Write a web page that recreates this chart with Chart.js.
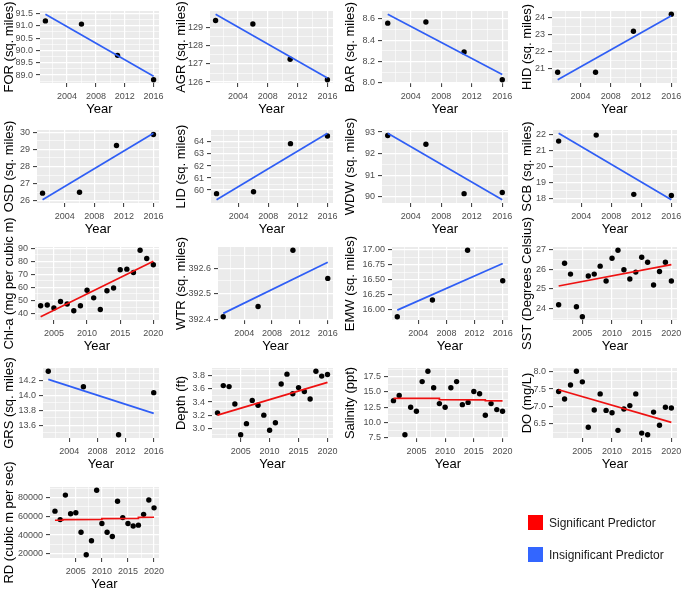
<!DOCTYPE html>
<html><head><meta charset="utf-8">
<script src="https://cdn.jsdelivr.net/npm/chart.js@4.4.1/dist/chart.umd.min.js"></script>
<style>
html,body{margin:0;padding:0;background:#fff;}
#root{position:relative;width:685px;height:591px;overflow:hidden;background:#fff;}
#root canvas{position:absolute;}
.leg{position:absolute;font-family:'Liberation Sans',Arial,sans-serif;font-size:12px;color:#1a1a1a;line-height:14px;white-space:nowrap;}
.sw{position:absolute;width:15px;height:15px;}
</style></head><body><div id="root"></div>
<script>
// ---------------- DATA ----------------
const years4 = [2001, 2006, 2011, 2016];
const years20 = [2001,2002,2003,2004,2005,2006,2007,2008,2009,2010,2011,2012,2013,2014,2015,2016,2017,2018,2019,2020];
const yearsChl = [2003,2004,2005,2006,2007,2008,2009,2010,2011,2012,2013,2014,2015,2016,2017,2018,2019,2020];
const fitYears4 = [2001, 2016];
const fitYears20 = [2001, 2020];
const fitYearsChl = [2003, 2020];
const xLabels4 = ['2004','2008','2012','2016'];
const xLabels5 = ['2005','2010','2015','2020'];

const forValues = [91.2, 91.07, 89.8, 88.81];
const forFit = [91.47, 88.95];
const forTicks = ['89.0','89.5','90.0','90.5','91.0','91.5'];

const agrValues = [129.4, 129.2, 127.26, 126.13];
const agrFit = [129.74, 126.23];
const agrTicks = ['126','127','128','129'];

const barValues = [8.56, 8.57, 8.29, 8.03];
const barFit = [8.643, 8.08];
const barTicks = ['8.0','8.2','8.4','8.6'];

const hidValues = [20.8, 20.8, 23.2, 24.2];
const hidFit = [20.36, 24.12];
const hidTicks = ['21','22','23','24'];

const osdValues = [26.45, 26.5, 29.22, 29.86];
const osdFit = [26.07, 29.93];
const osdTicks = ['26','27','28','29','30'];

const lidValues = [59.7, 59.86, 63.86, 64.5];
const lidFit = [59.2, 64.72];
const lidTicks = ['60','61','62','63','64','65'];

const wdwValues = [92.84, 92.43, 90.14, 90.19];
const wdwFit = [92.94, 89.86];
const wdwTicks = ['90','91','92','93'];

const scbValues = [21.57, 21.94, 18.28, 18.21];
const scbFit = [22.05, 17.95];
const scbTicks = ['18','19','20','21','22'];

const chlValues = [46.0, 46.5, 44.2, 49.2, 47.3, 42.1, 46.0, 57.8, 52.0, 43.1, 57.5, 59.6, 73.5, 74.0, 71.4, 88.4, 82.1, 77.4];
const chlFit = [37.6, 80.0];
const chlTicks = ['40','50','60','70','80','90'];

const wtrValues = [392.41, 392.45, 392.67, 392.56];
const wtrFit = [392.423, 392.623];
const wtrTicks = ['392.4','392.5','392.6'];

const emwValues = [15.88, 16.16, 16.99, 16.48];
const emwFit = [15.99, 16.77];
const emwTicks = ['16.00','16.25','16.50','16.75','17.00'];

const sstValues = [24.2, 26.3, 25.75, 24.1, 23.6, 25.65, 25.75, 26.15, 25.4, 26.55, 26.95, 25.97, 25.5, 25.85, 26.6, 26.35, 25.2, 25.88, 26.35, 25.4];
const sstFit = [25.15, 26.23];
const sstTicks = ['24','25','26','27'];

const grsValues = [14.33, 14.12, 13.47, 14.04];
const grsFit = [14.22, 13.76];
const grsTicks = ['13.6','13.8','14.0','14.2'];

const depthValues = [3.235, 3.65, 3.635, 3.37, 2.9, 3.07, 3.425, 3.35, 3.2, 2.97, 3.085, 3.675, 3.825, 3.525, 3.62, 3.56, 3.445, 3.87, 3.795, 3.82];
const depthFit = [3.2, 3.7];
const depthTicks = ['3.0','3.2','3.4','3.6','3.8'];

const salValues = [13.58, 14.44, 8.0, 12.5, 11.85, 16.7, 18.4, 15.7, 13.1, 12.5, 15.7, 16.7, 12.93, 13.3, 15.08, 14.7, 11.2, 13.1, 12.12, 11.85];
const salFitYears = [2001, 2009, 2009, 2017, 2017, 2020];
const salFit = [13.97, 13.95, 13.74, 13.72, 13.57, 13.55];
const salTicks = ['7.5','10.0','12.5','15.0','17.5'];

const doValues = [7.43, 7.21, 7.62, 8.02, 7.71, 6.39, 6.89, 7.36, 6.88, 6.81, 6.3, 6.92, 7.02, 7.36, 6.22, 6.17, 6.83, 6.45, 6.97, 6.95];
const doFit = [7.48, 6.53];
const doTicks = ['6.5','7.0','7.5','8.0'];

const rdValues = [65500, 56500, 82600, 62800, 63800, 43000, 19000, 34000, 87800, 52300, 43000, 38400, 76000, 58600, 52300, 49600, 50600, 62100, 77400, 69000];
const rdFitYears = [2001, 2002.5, 2002.5, 2010, 2010, 2017, 2017, 2020];
const rdFit = [55800, 55800, 56500, 56600, 57600, 57700, 58900, 59000];
const rdTicks = ['20000','40000','60000','80000'];

const legendLabels = ['Significant Predictor', 'Insignificant Predictor'];

// ---------------- STYLE / LAYOUT ----------------
const FONT = "'Liberation Sans', Arial, Helvetica, sans-serif";
const SIG = '#EE1111', INSIG = '#2F5EF5';
const LEG_SIG = '#FF0000', LEG_INSIG = '#3366FF';

const panels = [
  {t:'FOR (sq. miles)', x:years4, y:forValues, fx:fitYears4, fy:forFit, yt:forTicks, xt:xLabels4, c:INSIG},
  {t:'AGR (sq. miles)', x:years4, y:agrValues, fx:fitYears4, fy:agrFit, yt:agrTicks, xt:xLabels4, c:INSIG},
  {t:'BAR (sq. miles)', x:years4, y:barValues, fx:fitYears4, fy:barFit, yt:barTicks, xt:xLabels4, c:INSIG},
  {t:'HID (sq. miles)', x:years4, y:hidValues, fx:fitYears4, fy:hidFit, yt:hidTicks, xt:xLabels4, c:INSIG},
  {t:'OSD (sq. miles)', x:years4, y:osdValues, fx:fitYears4, fy:osdFit, yt:osdTicks, xt:xLabels4, c:INSIG},
  {t:'LID (sq. miles)', x:years4, y:lidValues, fx:fitYears4, fy:lidFit, yt:lidTicks, xt:xLabels4, c:INSIG},
  {t:'WDW (sq. miles)', x:years4, y:wdwValues, fx:fitYears4, fy:wdwFit, yt:wdwTicks, xt:xLabels4, c:INSIG},
  {t:'SCB (sq. miles)', x:years4, y:scbValues, fx:fitYears4, fy:scbFit, yt:scbTicks, xt:xLabels4, c:INSIG},
  {t:'Chl-a (mg per cubic m)', x:yearsChl, y:chlValues, fx:fitYearsChl, fy:chlFit, yt:chlTicks, xt:xLabels5, c:SIG},
  {t:'WTR (sq. miles)', x:years4, y:wtrValues, fx:fitYears4, fy:wtrFit, yt:wtrTicks, xt:xLabels4, c:INSIG},
  {t:'EMW (sq. miles)', x:years4, y:emwValues, fx:fitYears4, fy:emwFit, yt:emwTicks, xt:xLabels4, c:INSIG},
  {t:'SST (Degrees Celsius)', x:years20, y:sstValues, fx:fitYears20, fy:sstFit, yt:sstTicks, xt:xLabels5, c:SIG},
  {t:'GRS (sq. miles)', x:years4, y:grsValues, fx:fitYears4, fy:grsFit, yt:grsTicks, xt:xLabels4, c:INSIG},
  {t:'Depth (ft)', x:years20, y:depthValues, fx:fitYears20, fy:depthFit, yt:depthTicks, xt:xLabels5, c:SIG},
  {t:'Salinity (ppt)', x:years20, y:salValues, fx:salFitYears, fy:salFit, yt:salTicks, xt:xLabels5, c:SIG},
  {t:'DO (mg/L)', x:years20, y:doValues, fx:fitYears20, fy:doFit, yt:doTicks, xt:xLabels5, c:SIG},
  {t:'RD (cubic m per sec)', x:years20, y:rdValues, fx:rdFitYears, fy:rdFit, yt:rdTicks, xt:xLabels5, c:SIG}
];

// layout: plot-panel boxes in page pixels
const rowTB = [[11,83],[130,203],[247,320],[368,438],[487,558]];
const colCellLeft = [0, 172, 341, 518];
const colRight = [159, 333, 508, 677];
const plotLefts = [40, 210, 382, 552,  37, 211, 382, 553,  35, 218, 392, 553,  43, 212, 388, 553,  50];

const root = document.getElementById('root');

const greyBg = {
  id:'greyBg',
  beforeDraw(chart){
    const a = chart.chartArea, ctx = chart.ctx;
    ctx.save(); ctx.fillStyle = '#EBEBEB';
    ctx.fillRect(a.left, a.top, a.right - a.left, a.bottom - a.top);
    ctx.restore();
  }
};

function expRange(vals){
  const mn = Math.min(...vals), mx = Math.max(...vals), d = (mx - mn) * 0.05;
  return [mn - d, mx + d];
}
function gridTicks(majors, mn, mx){
  const step = majors[1] - majors[0];
  const out = [];
  majors.forEach(v => { if (v >= mn - 1e-9 && v <= mx + 1e-9) out.push(v); });
  for (let i = -1; i < majors.length; i++) {
    const m = majors[0] + (i + 0.5) * step;
    if (m >= mn && m <= mx) out.push(m);
  }
  return out.sort((a,b) => a - b);
}
function findLabel(v, majors, labels){
  for (let i = 0; i < majors.length; i++) if (Math.abs(majors[i] - v) < 1e-7 * Math.max(1, Math.abs(v))) return labels[i];
  return null;
}

function axisCfg(labels, vals, titleText, isX, fixedSize){
  const majors = labels.map(Number);
  const [mn, mx] = expRange(vals);
  const all = gridTicks(majors, mn, mx);
  const isMajor = v => findLabel(v, majors, labels) !== null;
  return {
    type:'linear', min:mn, max:mx,
    afterBuildTicks: ax => { ax.ticks = all.map(v => ({value:v})); },
    afterFit: ax => { if (isX) ax.height = fixedSize; else ax.width = fixedSize; },
    border:{display:false},
    grid:{
      color:'#FFFFFF',
      lineWidth: ctx => (ctx.tick && isMajor(ctx.tick.value)) ? 1.2 : 0.6,
      drawTicks:true, tickLength:4, tickWidth:1,
      tickColor: ctx => (ctx.tick && isMajor(ctx.tick.value)) ? '#333333' : 'rgba(0,0,0,0)'
    },
    ticks:{
      autoSkip:false, maxRotation:0, minRotation:0,
      color:'#4D4D4D', font:{family:FONT, size:9}, padding: isX ? 4 : 3,
      callback: v => { const l = findLabel(v, majors, labels); return l === null ? '' : l; }
    },
    title:{
      display:true, text:titleText, color:'#000000',
      font:{family:FONT, size:13},
      padding: isX ? {top:0, bottom:2} : {top:2, bottom:0}
    }
  };
}

panels.forEach((p, i) => {
  const row = Math.floor(i / 4), col = i % 4;
  const top = rowTB[row][0], bottom = rowTB[row][1];
  const cellLeft = colCellLeft[col], right = colRight[col];
  const plotLeft = plotLefts[i];
  const PADT = 42, PADR = 14, XH = 36;
  const W = right - cellLeft + PADR;
  const H = PADT + (bottom - top) + XH;
  const cv = document.createElement('canvas');
  cv.width = W; cv.height = H;
  cv.style.left = cellLeft + 'px'; cv.style.top = (top - PADT) + 'px';
  cv.style.width = W + 'px'; cv.style.height = H + 'px';
  root.appendChild(cv);

  const pts = p.x.map((x, k) => ({x, y:p.y[k]}));
  const fit = p.fx.map((x, k) => ({x, y:p.fy[k]}));
  const xAll = p.x.concat(p.fx);
  const yAll = p.y.concat(p.fy);

  new Chart(cv, {
    type:'scatter',
    data:{datasets:[
      {type:'line', data:fit, borderColor:p.c, borderWidth:1.7, pointRadius:0, fill:false, tension:0, order:0},
      {type:'scatter', data:pts, backgroundColor:'#000000', borderColor:'#000000', borderWidth:0, pointRadius:2.7, order:1}
    ]},
    options:{
      responsive:false, animation:false, devicePixelRatio:1, events:[],
      layout:{padding:{top:PADT, right:PADR, bottom:0, left:0}},
      plugins:{legend:{display:false}, tooltip:{enabled:false}},
      scales:{
        x: Object.assign(axisCfg(p.xt, xAll, 'Year', true, XH), {position:'bottom'}),
        y: Object.assign(axisCfg(p.yt, yAll, p.t, false, plotLeft - cellLeft), {position:'left'})
      }
    },
    plugins:[greyBg]
  });
});

// legend
const legColors = [LEG_SIG, LEG_INSIG];
const legTops = [515, 547];
legendLabels.forEach((lab, k) => {
  const sw = document.createElement('div');
  sw.className = 'sw';
  sw.style.left = '528px'; sw.style.top = legTops[k] + 'px';
  sw.style.background = legColors[k];
  root.appendChild(sw);
  const t = document.createElement('div');
  t.className = 'leg';
  t.style.left = '549px'; t.style.top = (legTops[k] + 1) + 'px';
  t.textContent = lab;
  root.appendChild(t);
});
</script></body></html>
